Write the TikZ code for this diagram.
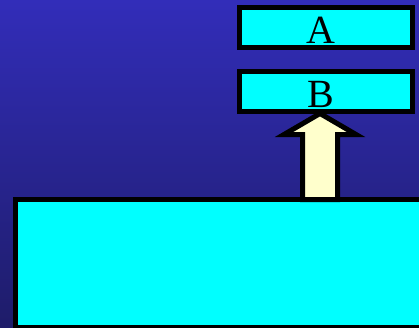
\documentclass[tikz,border=0pt]{standalone}
\usepackage{fontspec}
\setmainfont{Liberation Serif}
\usetikzlibrary{positioning, calc}
\definecolor{bgtop}{RGB}{50,45,185}
\definecolor{bgbottom}{RGB}{30,28,105}
\definecolor{boxcolor}{RGB}{0,255,255}
\definecolor{arrowcolor}{RGB}{255,255,204}

\begin{document}
\begin{tikzpicture}[
    x=1pt, y=1pt,
    box/.style={rectangle, draw=black, line width=5pt, fill=boxcolor, outer sep=0pt, inner sep=0pt,
        minimum width=173pt, minimum height=40pt, text height=32pt, text depth=0pt,
        font=\fontsize{40}{40}\selectfont},
    bigbox/.style={rectangle, draw=black, line width=5pt, fill=boxcolor, outer sep=0pt,
        minimum width=430pt, minimum height=128pt},
    blockarrow/.style={draw=black, line width=5pt, fill=arrowcolor, line join=miter}
]
% background
\useasboundingbox (0,0) rectangle (419,327);
\shade[top color=bgtop, bottom color=bgbottom] (0,0) rectangle (419,327);

\begin{scope}
\clip (0,0) rectangle (419,327);
\node[bigbox, anchor=north west] (base) at (15.5,127.5) {};
\end{scope}

\node[box] (A) at (326,299.5) {\hspace*{-10pt}A};
\node[box, below=24pt of A] (B) {\hspace*{-10pt}B};

% upward block arrow from the base to B
\coordinate (tip) at ([xshift=-6pt, yshift=-2pt]B.south);
\coordinate (shaftR) at ($(tip)+(17.5,-21)$);
\coordinate (shaftL) at ($(tip)+(-17.5,-21)$);
\draw[blockarrow] (tip) -- ++(36,-21) -- (shaftR) -- (shaftR |- base.north)
    -- (shaftL |- base.north) -- (shaftL) -- ++(-18.5,0) -- cycle;
\end{tikzpicture}
\end{document}
